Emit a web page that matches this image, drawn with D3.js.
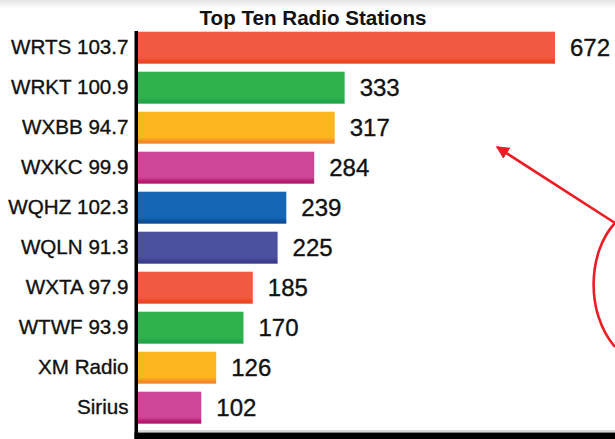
<!DOCTYPE html>
<html>
<head>
<meta charset="utf-8">
<script src="https://cdn.jsdelivr.net/npm/d3@7"></script>
<style>
html,body{margin:0;padding:0;background:#fff;}
svg{display:block;}
</style>
</head>
<body>
<svg id="chart" width="615" height="439"></svg>
<script>
const title = "Top Ten Radio Stations";
const stations = ["WRTS 103.7","WRKT 100.9","WXBB 94.7","WXKC 99.9","WQHZ 102.3","WQLN 91.3","WXTA 97.9","WTWF 93.9","XM Radio","Sirius"];
const listeners = [672,333,317,284,239,225,185,170,126,102];

const palette = [
  ["#F15A40","#EA4722"],
  ["#2EB34C","#22A64A"],
  ["#FBB620","#F5882A"],
  ["#CD4698","#B5186F"],
  ["#1567B6","#0B4E98"],
  ["#4B509F","#3A3D8C"]
];
const colorIdx = [0,1,2,3,4,5,0,1,2,3];

const svg = d3.select("#chart");
const W = 615, H = 439;

const defs = svg.append("defs");
const tg = defs.append("linearGradient").attr("id","topfade").attr("x1",0).attr("y1",0).attr("x2",0).attr("y2",1);
tg.append("stop").attr("offset","0%").attr("stop-color","#e4e4e4");
tg.append("stop").attr("offset","100%").attr("stop-color","#ffffff");
svg.append("rect").attr("x",0).attr("y",0).attr("width",W).attr("height",9).attr("fill","url(#topfade)");

palette.forEach((c,i)=>{
  const g = defs.append("linearGradient").attr("id","bg"+i).attr("x1",0).attr("y1",0).attr("x2",0).attr("y2",1);
  g.append("stop").attr("offset","0%").attr("stop-color",c[0]);
  g.append("stop").attr("offset","80%").attr("stop-color",c[0]);
  g.append("stop").attr("offset","93%").attr("stop-color",c[1]);
  g.append("stop").attr("offset","100%").attr("stop-color",c[1]);
});

const x0 = 138;
const x = d3.scaleLinear().domain([0,672]).range([x0,555]);
const y = d3.scaleBand().domain(stations).range([27.7,427.7]).paddingInner(0.2).paddingOuter(0.1);

const FONT = "Liberation Sans, Arial, Helvetica, sans-serif";

svg.append("text")
  .attr("x",313).attr("y",25)
  .attr("text-anchor","middle")
  .attr("font-family",FONT)
  .attr("font-weight","bold")
  .attr("font-size",20.6)
  .attr("fill","#111")
  .text(title);

svg.selectAll("rect.bar").data(stations).join("rect")
  .attr("class","bar")
  .attr("x",x(0))
  .attr("y",d=>y(d))
  .attr("width",(d,i)=>x(listeners[i])-x(0))
  .attr("height",y.bandwidth())
  .attr("fill",(d,i)=>"url(#bg"+colorIdx[i]+")");

const yAxis = d3.axisLeft(y).tickSize(0).tickPadding(9.5);
const ga = svg.append("g").attr("transform",`translate(${x0},0)`).call(yAxis);
ga.select(".domain").remove();
ga.selectAll("text")
  .attr("font-family",FONT)
  .attr("font-size",20.6)
  .attr("fill","#111")
  .attr("stroke","#111").attr("stroke-width",0.35);

svg.selectAll("text.val").data(stations).join("text")
  .attr("class","val")
  .attr("x",(d,i)=>x(listeners[i])+15)
  .attr("y",d=>y(d)+y.bandwidth()/2)
  .attr("dy","0.35em")
  .attr("font-family",FONT)
  .attr("font-size",24)
  .attr("fill","#111")
  .attr("stroke","#111").attr("stroke-width",0.35)
  .text((d,i)=>listeners[i]);

svg.append("rect").attr("x",134.5).attr("y",31).attr("width",3.5).attr("height",H-31).attr("fill","#000");
svg.append("rect").attr("x",134.5).attr("y",432.5).attr("width",W-134.5).attr("height",H-432.5).attr("fill","#000");
svg.append("line").attr("x1",138).attr("x2",W).attr("y1",431).attr("y2",431).attr("stroke","#999").attr("stroke-width",0.8);

const red = "#EC1C24";
defs.append("marker").attr("id","arrow").attr("viewBox","0 0 10 10").attr("refX",9).attr("refY",5)
  .attr("markerWidth",5).attr("markerHeight",5).attr("markerUnits","strokeWidth").attr("orient","auto")
  .append("path").attr("d","M0,0 L10,5 L0,10 z").attr("fill",red);
svg.append("line").attr("x1",615).attr("y1",223).attr("x2",497).attr("y2",147)
  .attr("stroke",red).attr("stroke-width",2.6).attr("marker-end","url(#arrow)");
svg.append("path").attr("d","M615,223 C588,252 585,312 615,347")
  .attr("fill","none").attr("stroke",red).attr("stroke-width",2.6);
</script>
</body>
</html>
